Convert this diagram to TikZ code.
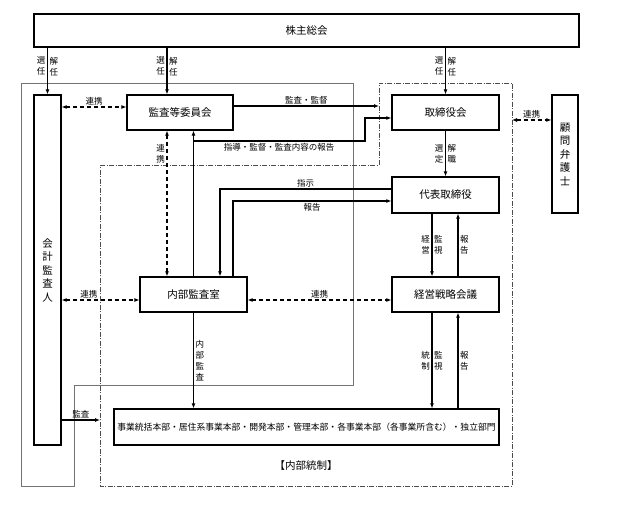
\documentclass[tikz,border=0pt]{standalone}
\usepackage{fontspec}
\setmainfont{Noto Sans CJK JP}
\usetikzlibrary{arrows.meta}

\begin{document}
\begin{tikzpicture}[x=1pt, y=-1pt,
      box/.style   = {draw, line width=1.2pt, inner sep=0pt, align=center,
                      font=\fontsize{10.5}{13.5}\selectfont},
      lbl/.style   = {font=\fontsize{8.5}{11}\selectfont, inner sep=1.5pt, align=center},
      arr/.style   = {-{Latex[length=5pt,width=4pt]}, line width=1.1pt},
      darr/.style  = {{Latex[length=5pt,width=4pt]}-{Latex[length=5pt,width=4pt]},
                      line width=1.1pt, dash pattern=on 4pt off 3pt},
      grpline/.style  = {draw, line width=0.6pt, color=black!55},
      ctrlline/.style = {draw, line width=0.8pt, color=black!70,
                         dash pattern=on 5pt off 1.5pt on 1pt off 1.5pt},
    ]
    \useasboundingbox (0,0) rectangle (619,521);

    % --- Rahmen ---
    \draw[grpline] (21,83) -- (353,83) -- (353,385) -- (74,385) -- (74,486) -- (21,486) -- cycle;
    \draw[ctrlline] (100,165) -- (379,165) -- (379,83) -- (512,83) -- (512,486) -- (100,486) -- cycle;

    % --- Gremien ---
    \node[box, minimum width=545pt, minimum height=33pt] (kabu)   at (306.5,30.5) {株主総会};
    \node[box, minimum width=27pt,  minimum height=350pt] (kaikei) at (47.5,270) {会\\計\\監\\査\\人};
    \node[box, minimum width=106pt, minimum height=35pt] (kansa)  at (180,112.5) {監査等委員会};
    \node[box, minimum width=107pt, minimum height=35pt] (tori)   at (445.5,112.5) {取締役会};
    \node[box, minimum width=26pt,  minimum height=118pt] (komon)  at (565,154) {顧\\問\\弁\\護\\士};
    \node[box, minimum width=107pt, minimum height=36pt] (daihyo) at (445.5,195) {代表取締役};
    \node[box, minimum width=107pt, minimum height=35pt] (keiei)  at (445.5,294.5) {経営戦略会議};
    \node[box, minimum width=107pt, minimum height=35pt] (naibu)  at (193.5,294.5) {内部監査室};
    \node[box, minimum width=385pt, minimum height=36pt,
          font=\fontsize{8.8}{10}\selectfont] (jigyo) at (306.5,427)
          {事業統括本部・居住系事業本部・開発本部・管理本部・各事業本部（各事業所含む）・独立部門};
    \node[font=\fontsize{10.5}{12}\selectfont] (tosei) at (306,466) {【内部統制】};

    % --- Hilfspunkte ---
    \coordinate (cKan) at (167,0);
    \coordinate (ctrlW) at (379,106);
    \coordinate (ctrlE) at (512,120);
    \coordinate (ctrlS) at (100,420);
    \coordinate (b1) at (193,141);
    \coordinate (b2) at (365,141);
    \coordinate (rY) at ([yshift=-5.5pt]naibu.west);

    % --- Wahl ---
    \draw[arr] (kabu.south -| kaikei.north) -- node[lbl, left, pos=0.4]{選\\任} node[lbl, right, pos=0.4]{解\\任} (kaikei.north);
    \draw[arr] (kabu.south -| cKan) -- node[lbl, left, pos=0.4]{選\\任} node[lbl, right, pos=0.4]{解\\任} (kansa.north -| cKan);
    \draw[arr] (kabu.south -| tori.north) -- node[lbl, left, pos=0.4]{選\\任} node[lbl, right, pos=0.4]{解\\任} (tori.north);
    \draw[arr] (tori.south) -- node[lbl, left]{選\\定} node[lbl, right]{解\\職} (daihyo.north);

    % --- Aufsicht ---
    \draw[darr] ([yshift=5.5pt]kaikei.east |- kansa.west) -- node[lbl, above]{連携} ([yshift=5.5pt]kansa.west);
    \draw[arr] ([yshift=6.5pt]kansa.east) -- node[lbl, above]{監査・監督} (ctrlW);
    \draw[darr] (ctrlE) -- node[lbl, above]{連携} (komon.west |- ctrlE);
    \draw[darr] (kansa.south -| cKan) -- node[lbl, left, pos=0.16]{連\\携} (naibu.north -| cKan);

    % --- Interne Revision ---
    \draw[arr] (naibu.north) -- (kansa.south -| naibu.north);
    \draw[arr] (b1) -- node[lbl, below, pos=0.5]{指導・監督・監査内容の報告} (b2) |- ([yshift=-5.5pt]tori.west);
    \draw[arr] ([yshift=6pt]daihyo.west) -| node[lbl, above, pos=0.25]{指示} ([xshift=26.5pt]naibu.north);
    \draw[arr] ([xshift=39.5pt]naibu.north) |- node[lbl, below, pos=0.75]{報告} ([yshift=-6pt]daihyo.west);
    \draw[darr] (kaikei.east |- rY) -- node[lbl, above, pos=0.35]{連携} (rY);
    \draw[darr] ([yshift=-5.5pt]naibu.east) -- node[lbl, above]{連携} ([yshift=-5.5pt]keiei.west);
    \draw[arr] (naibu.south) -- node[lbl, right]{内\\部\\監\\査} (naibu.south |- jigyo.north);

    % --- Geschaeftsfuehrung ---
    \draw[arr] ([xshift=-13.5pt]daihyo.south) -- node[lbl, left]{経\\営} node[lbl, right]{監\\視} ([xshift=-13.5pt]keiei.north);
    \draw[arr] ([xshift=12.5pt]keiei.north) -- node[lbl, right]{報\\告} ([xshift=12.5pt]daihyo.south);
    \draw[arr] ([xshift=-13.5pt]keiei.south) -- node[lbl, left]{統\\制} node[lbl, right]{監\\視} ([xshift=-13.5pt]keiei.south |- jigyo.north);
    \draw[arr] ([xshift=12.5pt]keiei.south |- jigyo.north) -- node[lbl, right]{報\\告} ([xshift=12.5pt]keiei.south);
    \draw[arr] (kaikei.east |- ctrlS) -- node[lbl, above]{監査} (ctrlS);

\end{tikzpicture}
\end{document}
